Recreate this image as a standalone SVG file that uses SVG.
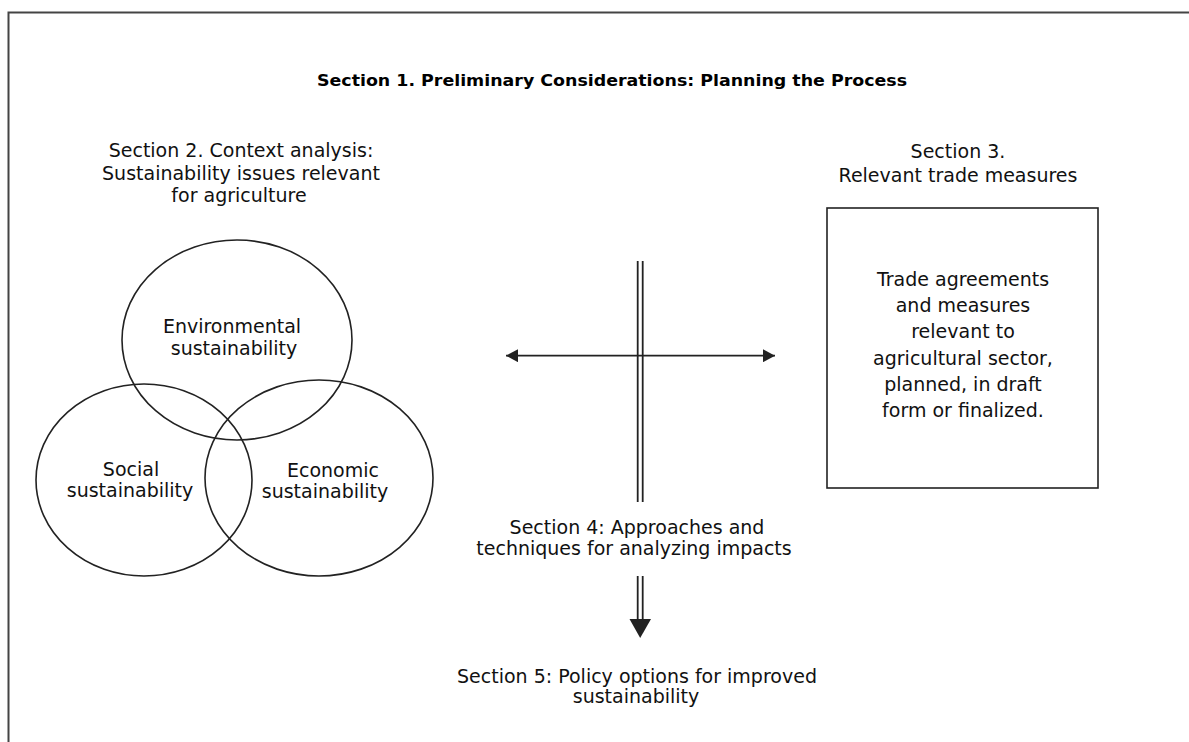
<svg xmlns="http://www.w3.org/2000/svg" width="1189" height="742" viewBox="0 0 1189 742">
  <style>
    .t { font-family: "DejaVu Sans", Verdana, sans-serif; font-size: 19px; fill: #111; text-anchor: middle; }
    .title { font-family: "DejaVu Sans Condensed", "DejaVu Sans", sans-serif; font-weight: bold; font-size: 16.5px; fill: #000; text-anchor: middle; }
    .shape { fill: none; stroke: #222; stroke-width: 1.6; }
    .line { stroke: #222; stroke-width: 1.8; fill: none; }
  </style>
  <defs>
    <marker id="ah" viewBox="0 0 12 13" refX="12" refY="6.5" markerWidth="12" markerHeight="13" markerUnits="userSpaceOnUse" orient="auto-start-reverse">
      <path d="M0,0 L12,6.5 L0,13 Z" fill="#222"/>
    </marker>
  </defs>
  <rect width="1189" height="742" fill="#fff"/>
  <g id="frame">
    <path d="M8.5,742 V12.5 H1189" fill="none" stroke="#444" stroke-width="2"/>
  </g>
  <g id="section1">
    <text class="title" x="612" y="86" textLength="590" lengthAdjust="spacingAndGlyphs">Section 1.  Preliminary Considerations: Planning the Process</text>
  </g>
  <g id="section2">
    <text class="t" x="241" y="157">Section 2. Context analysis:</text>
    <text class="t" x="241" y="180">Sustainability issues relevant</text>
    <text class="t" x="239" y="202">for agriculture</text>
  </g>
  <g id="environmental">
    <ellipse class="shape" cx="237" cy="340" rx="115" ry="100"/>
    <text class="t" x="232" y="333">Environmental</text>
    <text class="t" x="234" y="355">sustainability</text>
  </g>
  <g id="social">
    <ellipse class="shape" cx="144" cy="480" rx="108" ry="96"/>
    <text class="t" x="131" y="476">Social</text>
    <text class="t" x="130" y="497">sustainability</text>
  </g>
  <g id="economic">
    <ellipse class="shape" cx="319" cy="478" rx="114" ry="98"/>
    <text class="t" x="333" y="477">Economic</text>
    <text class="t" x="325" y="498">sustainability</text>
  </g>
  <g id="section3">
    <text class="t" x="958" y="158">Section 3.</text>
    <text class="t" x="958" y="182">Relevant trade measures</text>
  </g>
  <g id="trade-box">
    <rect class="shape" x="827" y="208" width="271" height="280"/>
    <text class="t" x="963" y="286">Trade agreements</text>
    <text class="t" x="963" y="312">and measures</text>
    <text class="t" x="963" y="338">relevant to</text>
    <text class="t" x="963" y="365">agricultural sector,</text>
    <text class="t" x="963" y="391">planned, in draft</text>
    <text class="t" x="963" y="417">form or finalized.</text>
  </g>
  <g id="section4">
    <text class="t" x="637" y="534">Section 4: Approaches and</text>
    <text class="t" x="634" y="555">techniques for analyzing impacts</text>
  </g>
  <g id="section5">
    <text class="t" x="637" y="683">Section 5: Policy options for improved</text>
    <text class="t" x="636" y="703">sustainability</text>
  </g>
  <g id="connectors">
    <line class="line" x1="637.7" y1="261" x2="637.7" y2="502"/>
    <line class="line" x1="642.7" y1="261" x2="642.7" y2="502"/>
    <line class="line" x1="506" y1="355.7" x2="775" y2="355.7" marker-start="url(#ah)" marker-end="url(#ah)"/>
    <line class="line" x1="637.7" y1="576" x2="637.7" y2="621"/>
    <line class="line" x1="642.7" y1="576" x2="642.7" y2="621"/>
    <path d="M629.5,619 L651,619 L640.2,638 Z" fill="#222"/>
  </g>
</svg>
